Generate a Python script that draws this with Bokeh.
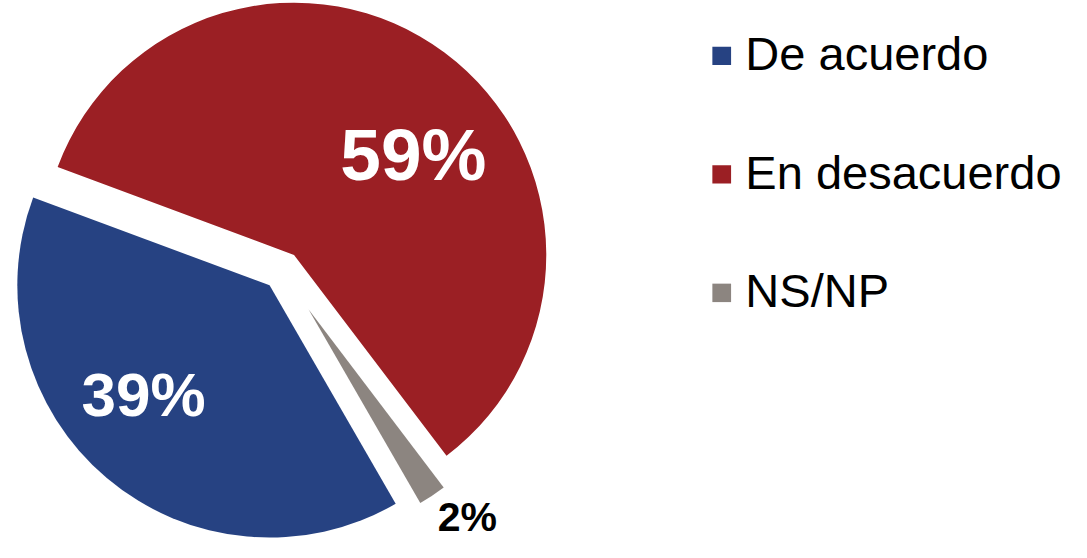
import math
from bokeh.plotting import figure
from bokeh.models import Range1d, ColumnDataSource
from bokeh.embed import file_html
from bokeh.resources import INLINE
from bokeh.core.properties import value

# ---- data ----
categories = ["De acuerdo", "En desacuerdo", "NS/NP"]
shares = [39, 59, 2]
labels = ["39%", "59%", "2%"]

# ---- styles / layout ----
colors = ["#264282", "#9B1F24", "#8C8580"]
W, H = 1071, 542
REF_W, REF_H = 1087, 558     # layout coordinates (y up)
first_angle = 300.0          # degrees (math convention), slices run clockwise
cx, cy = 286, 280            # pie centre
explode = [20, 20, 48]
radii = [256, 256, 227]
label_polar = [(226.9, 187.3), (31.7, 142.4), (-55.0, 281.0)]  # (angle, distance) from slice centre
label_sizes = [62, 73, 41]
label_colors = ["white", "white", "black"]
FONT = "Liberation Sans"
BASE_FIX = 0.38 * REF_H / H  # baseline correction (fraction of font size, in data units)

total = float(sum(shares))
xs, ys, starts, ends = [], [], [], []
lx, ly = [], []
cum = 0.0
for i, s in enumerate(shares):
    a_end = first_angle - cum / total * 360.0
    a_start = first_angle - (cum + s) / total * 360.0
    mid = math.radians((a_start + a_end) / 2.0)
    x0 = cx + explode[i] * math.cos(mid)
    y0 = cy + explode[i] * math.sin(mid)
    xs.append(x0); ys.append(y0)
    starts.append(math.radians(a_start)); ends.append(math.radians(a_end))
    la, ld = label_polar[i]
    lx.append(x0 + ld * math.cos(math.radians(la)))
    ly.append(y0 + ld * math.sin(math.radians(la)))
    cum += s

p = figure(width=W, height=H, x_range=Range1d(0, REF_W), y_range=Range1d(0, REF_H),
           output_backend="svg", toolbar_location=None, min_border=0,
           x_axis_type=None, y_axis_type=None)
p.grid.visible = False
p.outline_line_color = None
p.background_fill_color = "white"
p.border_fill_color = "white"

src = ColumnDataSource(dict(x=xs, y=ys, r=radii, s=starts, e=ends, c=colors))
p.wedge(x="x", y="y", radius="r", start_angle="s", end_angle="e",
        direction="anticlock", fill_color="c", line_color=None, source=src)

for i in range(len(labels)):
    p.text(x=[lx[i]], y=[ly[i] + BASE_FIX * label_sizes[i]], text=[labels[i]],
           text_font=value(FONT), text_font_style="bold",
           text_font_size=f"{label_sizes[i]}px",
           text_color=label_colors[i], text_align="center", text_baseline="alphabetic")

# legend (manual)
leg_x_sq, leg_x_txt = 732, 756
leg_top, leg_step = REF_H - 57, 122
leg_font = 47
for i, cat in enumerate(categories):
    yc = leg_top - i * leg_step
    p.rect(x=[leg_x_sq], y=[yc], width=19, height=19, fill_color=colors[i], line_color=None)
    p.text(x=[leg_x_txt], y=[yc - 16 + BASE_FIX * leg_font], text=[cat], text_font=value(FONT),
           text_font_size=f"{leg_font}px", text_color="black", text_align="left",
           text_baseline="alphabetic")

open("out.html", "w").write(file_html(p, INLINE))
